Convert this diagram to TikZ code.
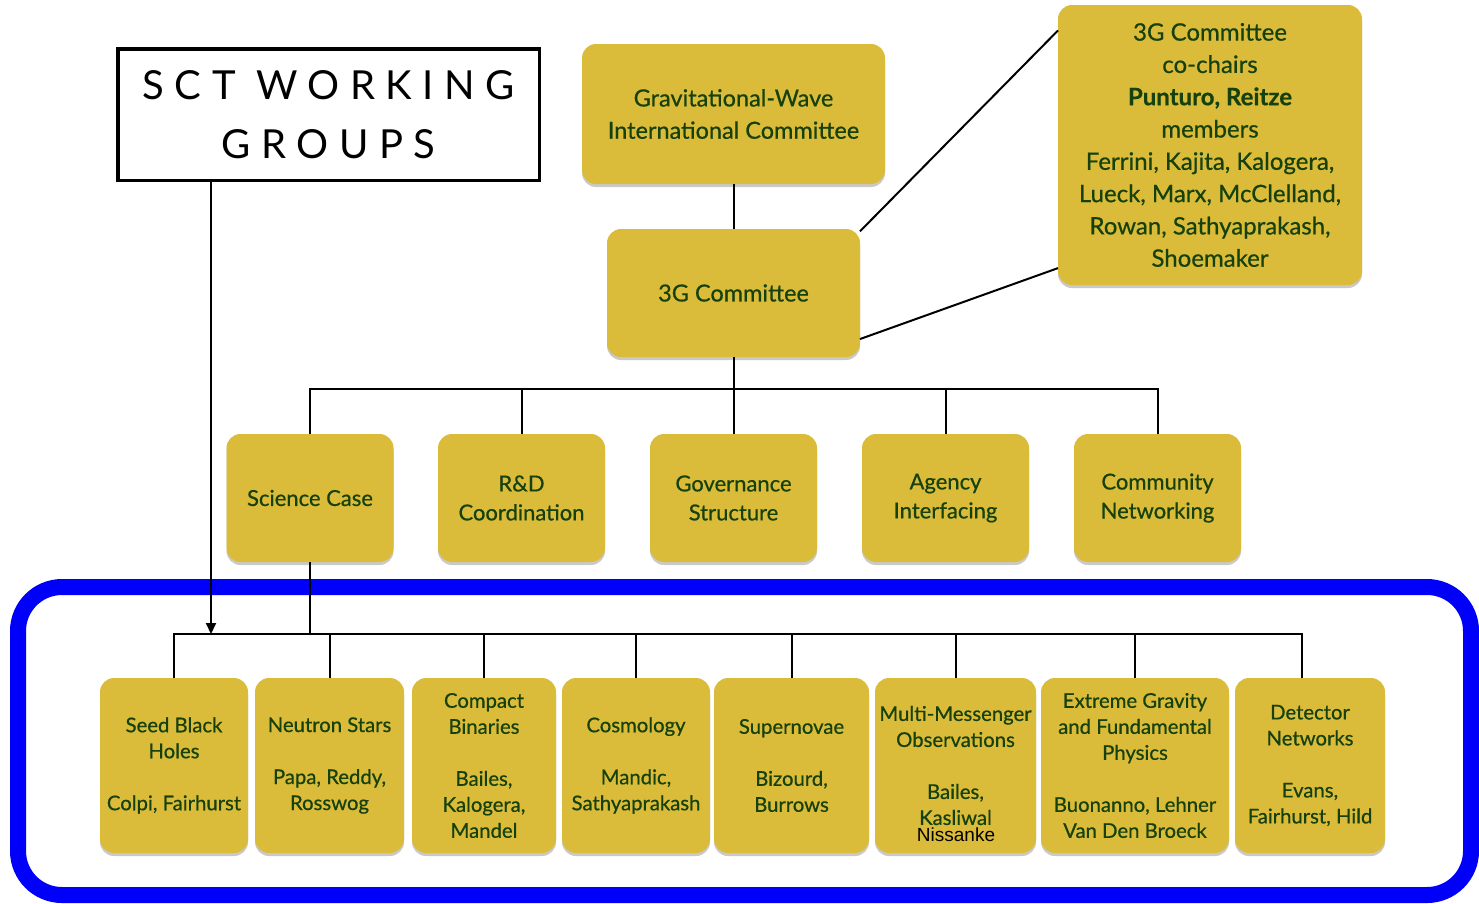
\documentclass[tikz,border=0pt]{standalone}
\usepackage{fontspec}
\setmainfont{Lato}[FakeBold=0.6]
\newfontfamily\sctfont[LetterSpace=26]{Lato}
\newfontfamily\helvfont{Liberation Sans}
\usetikzlibrary{shadows,arrows.meta}
\definecolor{boxfill}{RGB}{219,188,58}
\definecolor{boxtext}{RGB}{22,64,12}
\definecolor{frameblue}{RGB}{0,0,250}
\begin{document}
\begin{tikzpicture}[x=1pt,y=-1pt,
  gbox/.style={rectangle, rounded corners=14pt, fill=boxfill, text=boxtext,
    align=center, inner sep=0pt, outer sep=0pt,
    drop shadow={shadow xshift=0pt, shadow yshift=-3pt, opacity=0.3, fill=black!70}},
  topfont/.style={font=\fontsize{23.5}{32.3}\selectfont},
  ccfont/.style={font=\fontsize{24}{32.3}\selectfont},
  midfont/.style={font=\fontsize{22}{29}\selectfont},
  botfont/.style={font=\fontsize{20.3}{26}\selectfont},
  midbox/.style={gbox, midfont, minimum width=167pt, minimum height=128pt},
  botbox/.style={gbox, botfont, minimum height=175pt},
  conn/.style={draw=black, line width=2pt}]
\useasboundingbox (0,0) rectangle (1479,903);

% blue frame
\node[draw=frameblue, line width=16pt, rounded corners=44pt, minimum width=1453pt,
  minimum height=308pt, inner sep=0pt] (frame) at (744.5,741) {};

% title box
\node[draw=black, line width=3.5pt, minimum width=421.5pt, minimum height=131.5pt,
  inner sep=0pt, align=center, font=\sctfont\fontsize{40}{59}\selectfont]
  (sct) at (328.5,114.5) {SCT WORKING\\GROUPS};

% top boxes
\node[gbox, topfont, minimum width=303pt, minimum height=140pt] (gwic) at (733.5,114)
  {Gravitational-Wave\\International Committee};
\node[gbox, topfont, minimum width=253pt, minimum height=128pt] (g3) at (733.5,293)
  {3G Committee};
\node[gbox, ccfont, minimum width=304pt, minimum height=280pt] (cc) at (1210,145)
  {3G Committee\\co-chairs\\\textbf{Punturo, Reitze}\\members\\Ferrini, Kajita, Kalogera,\\Lueck, Marx, McClelland,\\Rowan, Sathyaprakash,\\Shoemaker};

% middle boxes
\node[midbox] (m1) at (310,498) {Science Case};
\node[midbox] (m2) at (521.5,498) {R\&D\\Coordination};
\node[midbox] (m3) at (733.5,498) {Governance\\Structure};
\node[midbox] (m4) at (945.5,498) {Agency\\Interfacing};
\node[midbox] (m5) at (1157.5,498) {Community\\Networking};

% bottom boxes
\node[botbox, minimum width=148pt] (b1) at (174,765.5) {Seed Black\\Holes\\[26pt]Colpi, Fairhurst};
\node[botbox, minimum width=149pt] (b2) at (329.5,765.5) {Neutron Stars\\[26pt]Papa, Reddy,\\Rosswog};
\node[botbox, minimum width=144pt] (b3) at (484,765.5) {Compact\\Binaries\\[26pt]Bailes,\\Kalogera,\\Mandel};
\node[botbox, minimum width=148pt] (b4) at (636,765.5) {Cosmology\\[26pt]Mandic,\\Sathyaprakash};
\node[botbox, minimum width=155pt] (b5) at (791.5,765.5) {Supernovae\\[26pt]Bizourd,\\Burrows};
\node[botbox, minimum width=161pt] (b6) at (955.5,765.5) {Multi-Messenger\\Observations\\[26pt]Bailes,\\Kasliwal};
\node[botbox, minimum width=188pt] (b7) at (1135,765.5) {Extreme Gravity\\and Fundamental\\Physics\\[26pt]Buonanno, Lehner\\Van Den Broeck};
\node[botbox, minimum width=150pt] (b8) at (1310,765.5) {Detector\\Networks\\[26pt]Evans,\\Fairhurst, Hild};
\node[font=\helvfont\fontsize{19}{20}\selectfont, text=black, inner sep=0pt] (nis) at (956,835) {Nissanke};

% connectors
\coordinate (bus1) at (733.5,389);
\coordinate (bus2) at (310,634);
\draw[conn] (gwic.south) -- (g3.north);
\draw[conn] (g3.26) -- (cc.143);
\draw[conn] (g3.-20) -- (cc.219);
\draw[conn] (g3.south) -- (bus1);
\foreach \m in {m1,m2,m3,m4,m5} \draw[conn] (\m.north) |- (bus1);
\draw[conn] (m1.south) -- (bus2);
\foreach \b in {b1,b2,b3,b4,b5,b6,b7} \draw[conn] (\b.north) |- (bus2);
\draw[conn] ([xshift=-8pt]b8.north) |- (bus2);
\coordinate (arr) at (211,634);
\draw[conn, -{Triangle[length=11pt,width=10pt]}] (sct.south -| arr) -- (arr);
\end{tikzpicture}
\end{document}
